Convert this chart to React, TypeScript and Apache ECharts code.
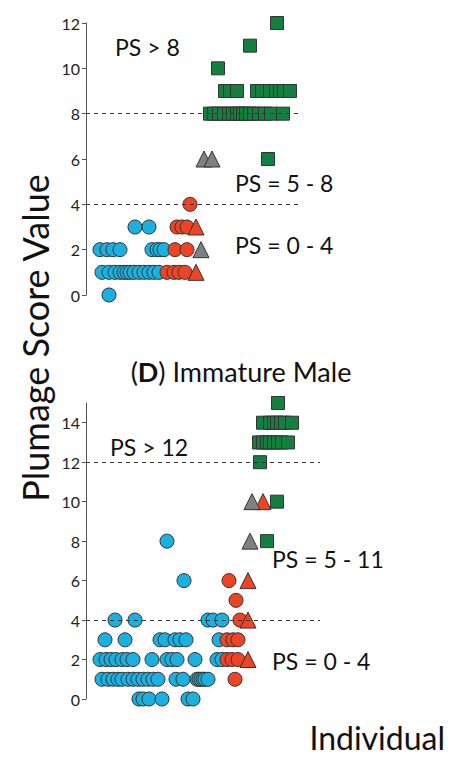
import React, { useEffect, useRef } from "react";
import * as echarts from "echarts";

// ---------- Panel 1 (top) : [individual position, plumage score] ----------
const topBlueCircles: number[][] = [
  [23, 0],
  [16, 1], [23, 1], [29, 1], [34, 1], [38, 1], [41, 1], [44, 1], [48, 1], [53, 1], [58, 1], [63, 1], [68, 1], [73, 1],
  [14, 2], [21, 2], [27, 2], [34, 2], [66, 2], [71, 2], [74, 2], [78, 2],
  [49, 3], [63, 3],
];
const topRedCircles: number[][] = [
  [81, 1], [88, 1], [93, 1], [99, 1],
  [89, 2], [101, 2],
  [91, 3], [96, 3], [101, 3],
  [104, 4],
];
const topRedTriangles: number[][] = [[110, 1], [110, 3]];
const topGreyTriangles: number[][] = [[115, 2], [118, 6], [126, 6]];
const topGreenSquares: number[][] = [
  [182, 6],
  [124, 8], [128, 8], [133, 8], [138, 8], [143, 8], [147, 8], [151, 8], [154, 8], [157, 8], [160, 8], [164, 8], [168, 8], [173, 8], [179, 8], [185, 8], [197, 8],
  [139, 9], [144, 9], [151, 9], [171, 9], [176, 9], [184, 9], [190, 9], [194, 9], [198, 9], [204, 9],
  [132, 10],
  [164, 11],
  [191, 12],
];
const topThresholds = [8, 4];
const topTicks = { min: 0, max: 12, interval: 2 };

// ---------- Panel 2 (bottom, Immature Male) ----------
const botBlueCircles: number[][] = [
  [53, 0], [57, 0], [63, 0], [76, 0], [102, 0], [107, 0],
  [16, 1], [22, 1], [27, 1], [32, 1], [36, 1], [42, 1], [47, 1], [52, 1], [57, 1], [62, 1], [67, 1], [72, 1], [90, 1], [97, 1],
  [111, 1], [113, 1], [115, 1], [117, 1], [119, 1], [122, 1],
  [14, 2], [20, 2], [25, 2], [30, 2], [36, 2], [41, 2], [47, 2], [66, 2], [81, 2], [86, 2], [91, 2], [109, 2], [131, 2], [136, 2],
  [19, 3], [39, 3], [74, 3], [79, 3], [89, 3], [94, 3], [100, 3], [133, 3],
  [29, 4], [49, 4], [122, 4], [127, 4], [136, 4],
  [98, 6],
  [81, 8],
];
const botRedCircles: number[][] = [
  [149, 1],
  [141, 2], [146, 2], [152, 2],
  [141, 3], [147, 3], [152, 3],
  [154, 4],
  [150, 5],
  [143, 6],
];
const botRedTriangles: number[][] = [[162, 2], [162, 4], [162, 6], [177, 10]];
const botGreyTriangles: number[][] = [[164, 8], [166, 10]];
const botGreenSquares: number[][] = [
  [181, 8],
  [191, 10],
  [174, 12],
  [173, 13], [177, 13], [181, 13], [184, 13], [188, 13], [192, 13], [196, 13], [202, 13],
  [177, 14], [184, 14], [188, 14], [191, 14], [195, 14], [199, 14], [206, 14],
  [192, 15],
];
const botThresholds = [12, 4];
const botTicks = { min: 0, max: 15, interval: 2 };

const FONT = "Lato, 'Open Sans', sans-serif";
const BLUE = "#1bb0e0";
const RED = "#ee4426";
const GREY = "#808080";
const GREEN = "#138040";
const EDGE = "#333333";

function App() {
  const ref = useRef<HTMLDivElement>(null);

  useEffect(() => {
    if (!ref.current) return;
    const chart = echarts.init(ref.current, null, { renderer: "svg" });

    const mk = (
      name: string,
      data: number[][],
      idx: number,
      symbol: string,
      color: string,
      size: number,
      thresholds?: number[]
    ): any => ({
      name,
      type: "scatter",
      xAxisIndex: idx,
      yAxisIndex: idx,
      data,
      symbol,
      symbolSize: size,
      itemStyle: { color, borderColor: EDGE, borderWidth: 1, opacity: 1 },
      markLine: thresholds
        ? {
            silent: true,
            symbol: "none",
            label: { show: false },
            lineStyle: { type: [4, 4], color: "#333", width: 1 },
            data: thresholds.map((t) => ({ yAxis: t })),
          }
        : undefined,
    });

    const yAxisBase = (t: { min: number; max: number; interval: number }, idx: number): any => ({
      type: "value",
      gridIndex: idx,
      min: t.min,
      max: t.max,
      interval: t.interval,
      axisLine: { show: true, lineStyle: { color: "#555", width: 1 } },
      axisTick: { show: true, length: 4, lineStyle: { color: "#555" } },
      splitLine: { show: false },
      axisLabel: {
        fontSize: 16,
        color: "#222",
        fontFamily: FONT,
        margin: 6,
        showMaxLabel: idx === 1 ? false : true,
      },
    });

    const text = (t: string, x: number, y: number, size: number, extra: any = {}): any => ({
      type: "text",
      x,
      y,
      silent: true,
      style: {
        text: t,
        fontSize: size,
        fontFamily: FONT,
        fill: "#111",
        textAlign: "left",
        textVerticalAlign: "middle",
        ...extra,
      },
    });

    chart.setOption({
      animation: false,
      backgroundColor: "#ffffff",
      grid: [
        { left: 86, top: 23, width: 214, height: 272 },
        { left: 86, top: 403, width: 234, height: 296 },
      ],
      xAxis: [
        { type: "value", gridIndex: 0, min: 0, max: 214, show: false },
        { type: "value", gridIndex: 1, min: 0, max: 234, show: false },
      ],
      yAxis: [yAxisBase(topTicks, 0), yAxisBase(botTicks, 1)],
      series: [
        mk("Blue", topBlueCircles, 0, "circle", BLUE, 14, topThresholds),
        mk("Red", topRedCircles, 0, "circle", RED, 14),
        mk("RedT", topRedTriangles, 0, "triangle", RED, 16),
        mk("GreyT", topGreyTriangles, 0, "triangle", GREY, 16),
        mk("Green", topGreenSquares, 0, "rect", GREEN, 13),
        mk("Blue2", botBlueCircles, 1, "circle", BLUE, 14, botThresholds),
        mk("Red2", botRedCircles, 1, "circle", RED, 14),
        mk("RedT2", botRedTriangles, 1, "triangle", RED, 16),
        mk("GreyT2", botGreyTriangles, 1, "triangle", GREY, 16),
        mk("Green2", botGreenSquares, 1, "rect", GREEN, 13),
      ],
      graphic: [
        text("PS > 8", 115, 47, 23),
        text("PS = 5 - 8", 235, 183, 23),
        text("PS = 0 - 4", 235, 245, 23),
        text("PS > 12", 110, 447, 23),
        text("PS = 5 - 11", 272, 559, 23),
        text("PS = 0 - 4", 272, 661, 23),
        text("Individual", 445, 737, 32, { textAlign: "right" }),
        {
          type: "text",
          x: 35,
          y: 338,
          rotation: Math.PI / 2,
          silent: true,
          style: {
            text: "Plumage Score Value",
            fontSize: 36,
            fontFamily: FONT,
            fill: "#111",
            textAlign: "center",
            textVerticalAlign: "middle",
          },
        },
        {
          type: "text",
          x: 241,
          y: 371,
          silent: true,
          style: {
            text: "({b|D}) Immature Male",
            fontSize: 27,
            fontFamily: FONT,
            fill: "#111",
            textAlign: "center",
            textVerticalAlign: "middle",
            rich: {
              b: { fontSize: 27, fontFamily: FONT, fontWeight: "bold", fill: "#111" },
            },
          },
        },
      ],
    });

    return () => chart.dispose();
  }, []);

  return (
    <div
      ref={ref}
      style={{ position: "fixed", left: 0, top: 0, width: 451, height: 759, background: "#fff" }}
    />
  );
}

export default App;
